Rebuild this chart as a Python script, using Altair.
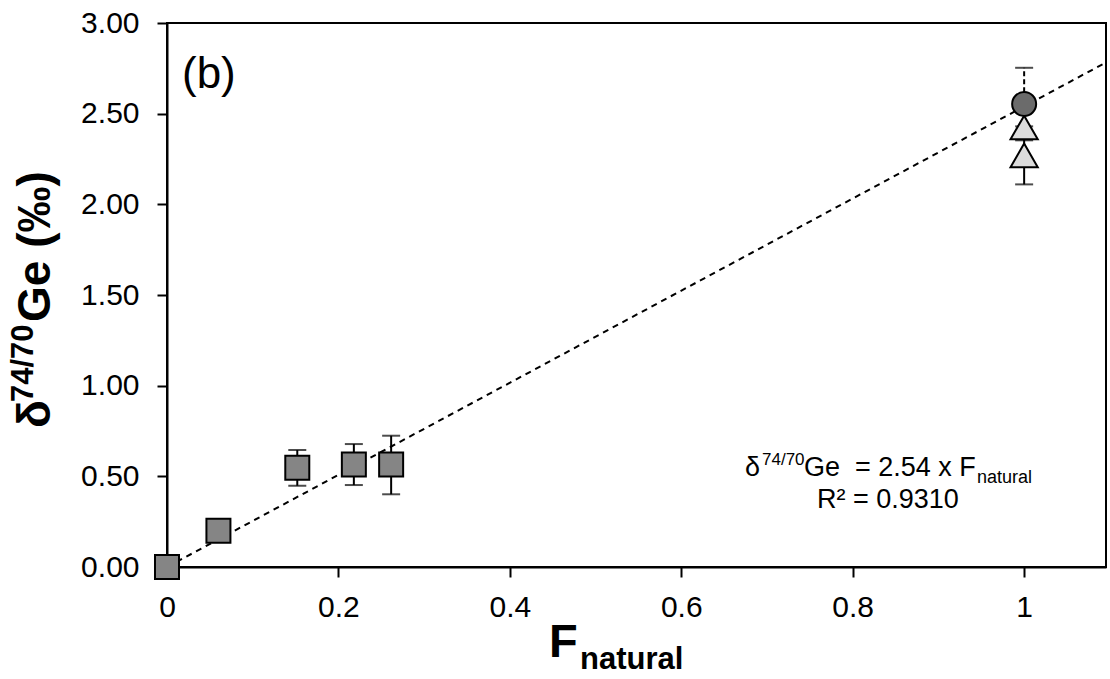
import altair as alt
import pandas as pd

FONT = "Liberation Sans"

# ---- data ----
sq_x = [0.0, 0.06, 0.152, 0.218, 0.2615]
sq_y = [0.0, 0.20, 0.547, 0.565, 0.565]
sq_lo = [None, None, 0.448, 0.452, 0.401]
sq_hi = [None, None, 0.645, 0.678, 0.724]

tri_x = [1.0, 1.0]
tri_y = [2.424, 2.27]
tri_lo = [None, 2.11]
tri_hi = [None, 2.43]

circ_x = [1.0]
circ_y = [2.553]
circ_lo = [2.353]
circ_hi = [2.753]

slope = 2.54
fit_x = [0.0, 1.1]

x_ticks = [0, 0.2, 0.4, 0.6, 0.8, 1.0]
y_ticks = [0.0, 0.5, 1.0, 1.5, 2.0, 2.5, 3.0]
x_domain = [0, 1.0955]
y_domain = [0, 3.0]

# ---- tables ----
sq_df = pd.DataFrame({"x": sq_x, "y": sq_y, "lo": sq_lo, "hi": sq_hi})
tri_df = pd.DataFrame({"x": tri_x, "y": tri_y, "lo": tri_lo, "hi": tri_hi})
circ_df = pd.DataFrame({"x": circ_x, "y": circ_y, "lo": circ_lo, "hi": circ_hi})
err_df = pd.concat([sq_df, tri_df]).dropna().reset_index(drop=True)
cap_df = pd.concat([
    pd.DataFrame({"x": err_df["x"], "y": err_df["lo"]}),
    pd.DataFrame({"x": err_df["x"], "y": err_df["hi"]}),
    pd.DataFrame({"x": circ_df["x"], "y": circ_df["lo"]}),
    pd.DataFrame({"x": circ_df["x"], "y": circ_df["hi"]}),
]).reset_index(drop=True)
fit_df = pd.DataFrame({"x": fit_x})

xs = alt.Scale(domain=x_domain, nice=False, zero=False)
ys = alt.Scale(domain=y_domain, nice=False, zero=False)

common_axis = dict(
    grid=False, tickSize=10, tickWidth=2, domainWidth=2,
    tickColor="black", domainColor="black", labelColor="black",
    labelFont=FONT, labelFontSize=30, title=None, labelOverlap=False,
    labelFlush=False,
)
x_enc = alt.X("x:Q", scale=xs,
              axis=alt.Axis(values=x_ticks, format="~g", labelPadding=15, **common_axis))
y_axis = alt.Axis(values=y_ticks, format=".2f", labelPadding=18, **common_axis)

fit = alt.Chart(fit_df).transform_calculate(
    y=f"{slope} * datum.x"
).mark_line(color="black", strokeWidth=2, strokeDash=[6, 5], clip=True).encode(
    x=x_enc, y=alt.Y("y:Q", scale=ys, axis=y_axis)
)

err_rules = alt.Chart(err_df).mark_rule(color="black", strokeWidth=2).encode(
    x="x:Q", y="lo:Q", y2="hi:Q"
)
circ_rule = alt.Chart(circ_df).mark_rule(color="black", strokeWidth=2, strokeDash=[5, 3]).encode(
    x="x:Q", y="lo:Q", y2="hi:Q"
)
caps = alt.Chart(cap_df).mark_tick(color="black", orient="horizontal", size=18, thickness=2).encode(
    x="x:Q", y="y:Q"
)

squares = alt.Chart(sq_df).mark_point(
    shape="square", filled=True, fill="#858585", stroke="black", strokeWidth=2, size=576, opacity=1
).encode(x="x:Q", y="y:Q")

triangles = alt.Chart(tri_df).mark_point(
    shape="triangle-up", filled=True, fill="#dcdcdc", stroke="black", strokeWidth=2, size=740, opacity=1
).encode(x="x:Q", y="y:Q")

circles = alt.Chart(circ_df).mark_point(
    shape="circle", filled=True, fill="#6b6b6b", stroke="black", strokeWidth=2, size=576, opacity=1
).encode(x="x:Q", y="y:Q")


def label(text, x, y, size, bold=False, angle=None):
    kw = dict(align="left", baseline="alphabetic", font=FONT, fontSize=size,
              fontWeight="bold" if bold else "normal", color="black")
    if angle is not None:
        kw["angle"] = angle
    return alt.Chart(pd.DataFrame({"t": [text]})).mark_text(**kw).encode(
        text="t:N", x=alt.value(x), y=alt.value(y)
    )


texts = [
    label("(b)", 15, 65, 44),
    # annotation
    label("δ", 578, 453, 27),
    label("74/70", 595, 442, 17),
    label("Ge\u00a0 = 2.54 x F", 637, 453, 27),
    label("natural", 810, 460, 18),
    label("R² = 0.9310", 650, 485, 27),
    # x title
    label("F", 382, 634, 47, bold=True),
    label("natural", 413, 646, 31, bold=True),
    # y title (rotated)
    label("δ", -117, 405, 46, bold=True, angle=270),
    label("74/70", -134, 379, 31, bold=True, angle=270),
    label("Ge (‰)", -117, 299, 46, bold=True, angle=270),
]

chart = alt.layer(
    fit, err_rules, circ_rule, caps, triangles, squares, circles, *texts
).properties(
    width=939, height=544,
    padding={"left": 167, "top": 23, "right": 4, "bottom": 112},
    autosize=alt.AutoSizeParams(type="none"),
).configure_view(stroke="black", strokeWidth=2)

chart.save("out.html", embed_options={"renderer": "svg", "actions": False})
